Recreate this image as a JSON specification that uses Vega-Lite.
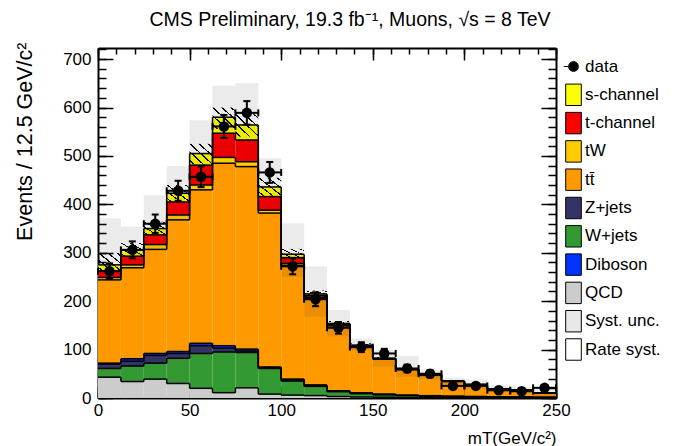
{
  "$schema": "https://vega.github.io/schema/vega-lite/v6.json",
  "width": 458,
  "height": 350,
  "autosize": {"type": "none"},
  "padding": {"left": 98, "top": 48, "right": 124, "bottom": 48},
  "background": "white",
  "config": {
    "view": {"stroke": null},
    "font": "Liberation Sans",
    "axis": {
      "zindex": 1, "grid": false, "domain": false, "domainColor": "black", "domainWidth": 2,
      "tickColor": "black", "tickWidth": 1.5, "labelFont": "Liberation Sans", "labelFontSize": 17,
      "labelColor": "black", "titleFont": "Liberation Sans", "titleFontSize": 17, "titleFontWeight": "normal",
      "titleColor": "black", "labelFlush": false, "labelOverlap": false
    }
  },
  "title": {
    "text": "CMS Preliminary, 19.3 fb⁻¹, Muons, √s = 8 TeV",
    "font": "Liberation Sans", "fontSize": 19.5, "fontWeight": "normal", "color": "black",
    "anchor": "middle", "frame": "group", "dx": 23, "offset": 12
  },
  "resolve": {"axis": {"x": "independent", "y": "independent"}},
  "datasets": {
    "mc": [
      {"lo":0,"hi":12.5,"p":"QCD","v":43},{"lo":0,"hi":12.5,"p":"W+jets","v":18},{"lo":0,"hi":12.5,"p":"Z+jets","v":9},{"lo":0,"hi":12.5,"p":"Diboson","v":2},{"lo":0,"hi":12.5,"p":"tt̄","v":172},{"lo":0,"hi":12.5,"p":"tW","v":5},{"lo":0,"hi":12.5,"p":"t-channel","v":13},{"lo":0,"hi":12.5,"p":"s-channel","v":13},
      {"lo":12.5,"hi":25,"p":"QCD","v":34},{"lo":12.5,"hi":25,"p":"W+jets","v":32},{"lo":12.5,"hi":25,"p":"Z+jets","v":10},{"lo":12.5,"hi":25,"p":"Diboson","v":5},{"lo":12.5,"hi":25,"p":"tt̄","v":188},{"lo":12.5,"hi":25,"p":"tW","v":6},{"lo":12.5,"hi":25,"p":"t-channel","v":18},{"lo":12.5,"hi":25,"p":"s-channel","v":13},
      {"lo":25,"hi":37.5,"p":"QCD","v":39},{"lo":25,"hi":37.5,"p":"W+jets","v":33},{"lo":25,"hi":37.5,"p":"Z+jets","v":16},{"lo":25,"hi":37.5,"p":"Diboson","v":4},{"lo":25,"hi":37.5,"p":"tt̄","v":215},{"lo":25,"hi":37.5,"p":"tW","v":10},{"lo":25,"hi":37.5,"p":"t-channel","v":20},{"lo":25,"hi":37.5,"p":"s-channel","v":13},
      {"lo":37.5,"hi":50,"p":"QCD","v":30},{"lo":37.5,"hi":50,"p":"W+jets","v":52},{"lo":37.5,"hi":50,"p":"Z+jets","v":10},{"lo":37.5,"hi":50,"p":"Diboson","v":4},{"lo":37.5,"hi":50,"p":"tt̄","v":272},{"lo":37.5,"hi":50,"p":"tW","v":10},{"lo":37.5,"hi":50,"p":"t-channel","v":27},{"lo":37.5,"hi":50,"p":"s-channel","v":18},
      {"lo":50,"hi":62.5,"p":"QCD","v":20},{"lo":50,"hi":62.5,"p":"W+jets","v":72},{"lo":50,"hi":62.5,"p":"Z+jets","v":16},{"lo":50,"hi":62.5,"p":"Diboson","v":5},{"lo":50,"hi":62.5,"p":"tt̄","v":317},{"lo":50,"hi":62.5,"p":"tW","v":10},{"lo":50,"hi":62.5,"p":"t-channel","v":41},{"lo":50,"hi":62.5,"p":"s-channel","v":24},
      {"lo":62.5,"hi":75,"p":"QCD","v":11},{"lo":62.5,"hi":75,"p":"W+jets","v":84},{"lo":62.5,"hi":75,"p":"Z+jets","v":8},{"lo":62.5,"hi":75,"p":"Diboson","v":5},{"lo":62.5,"hi":75,"p":"tt̄","v":377},{"lo":62.5,"hi":75,"p":"tW","v":12},{"lo":62.5,"hi":75,"p":"t-channel","v":50},{"lo":62.5,"hi":75,"p":"s-channel","v":33},
      {"lo":75,"hi":87.5,"p":"QCD","v":21},{"lo":75,"hi":87.5,"p":"W+jets","v":73},{"lo":75,"hi":87.5,"p":"Z+jets","v":3},{"lo":75,"hi":87.5,"p":"Diboson","v":4},{"lo":75,"hi":87.5,"p":"tt̄","v":377},{"lo":75,"hi":87.5,"p":"tW","v":10},{"lo":75,"hi":87.5,"p":"t-channel","v":45},{"lo":75,"hi":87.5,"p":"s-channel","v":31},
      {"lo":87.5,"hi":100,"p":"QCD","v":8},{"lo":87.5,"hi":100,"p":"W+jets","v":53},{"lo":87.5,"hi":100,"p":"Z+jets","v":2},{"lo":87.5,"hi":100,"p":"Diboson","v":1},{"lo":87.5,"hi":100,"p":"tt̄","v":318},{"lo":87.5,"hi":100,"p":"tW","v":6},{"lo":87.5,"hi":100,"p":"t-channel","v":28},{"lo":87.5,"hi":100,"p":"s-channel","v":20},
      {"lo":100,"hi":112.5,"p":"QCD","v":6},{"lo":100,"hi":112.5,"p":"W+jets","v":29},{"lo":100,"hi":112.5,"p":"Z+jets","v":3},{"lo":100,"hi":112.5,"p":"Diboson","v":1},{"lo":100,"hi":112.5,"p":"tt̄","v":235},{"lo":100,"hi":112.5,"p":"tW","v":4},{"lo":100,"hi":112.5,"p":"t-channel","v":12},{"lo":100,"hi":112.5,"p":"s-channel","v":7},
      {"lo":112.5,"hi":125,"p":"QCD","v":5},{"lo":112.5,"hi":125,"p":"W+jets","v":19},{"lo":112.5,"hi":125,"p":"Z+jets","v":2},{"lo":112.5,"hi":125,"p":"Diboson","v":1},{"lo":112.5,"hi":125,"p":"tt̄","v":178},{"lo":112.5,"hi":125,"p":"tW","v":3},{"lo":112.5,"hi":125,"p":"t-channel","v":4},{"lo":112.5,"hi":125,"p":"s-channel","v":3},
      {"lo":125,"hi":137.5,"p":"QCD","v":3},{"lo":125,"hi":137.5,"p":"W+jets","v":10},{"lo":125,"hi":137.5,"p":"Z+jets","v":1},{"lo":125,"hi":137.5,"p":"Diboson","v":1},{"lo":125,"hi":137.5,"p":"tt̄","v":134},{"lo":125,"hi":137.5,"p":"tW","v":2},{"lo":125,"hi":137.5,"p":"t-channel","v":2},{"lo":125,"hi":137.5,"p":"s-channel","v":1},
      {"lo":137.5,"hi":150,"p":"QCD","v":2},{"lo":137.5,"hi":150,"p":"W+jets","v":7},{"lo":137.5,"hi":150,"p":"Z+jets","v":1},{"lo":137.5,"hi":150,"p":"Diboson","v":0.5},{"lo":137.5,"hi":150,"p":"tt̄","v":95.5},{"lo":137.5,"hi":150,"p":"tW","v":1.5},{"lo":137.5,"hi":150,"p":"t-channel","v":1},{"lo":137.5,"hi":150,"p":"s-channel","v":0.5},
      {"lo":150,"hi":162.5,"p":"QCD","v":1.5},{"lo":150,"hi":162.5,"p":"W+jets","v":5},{"lo":150,"hi":162.5,"p":"Z+jets","v":1},{"lo":150,"hi":162.5,"p":"Diboson","v":0.5},{"lo":150,"hi":162.5,"p":"tt̄","v":72},{"lo":150,"hi":162.5,"p":"tW","v":1},{"lo":150,"hi":162.5,"p":"t-channel","v":1},{"lo":150,"hi":162.5,"p":"s-channel","v":0},
      {"lo":162.5,"hi":175,"p":"QCD","v":1},{"lo":162.5,"hi":175,"p":"W+jets","v":4},{"lo":162.5,"hi":175,"p":"Z+jets","v":0.5},{"lo":162.5,"hi":175,"p":"Diboson","v":0.3},{"lo":162.5,"hi":175,"p":"tt̄","v":52.5},{"lo":162.5,"hi":175,"p":"tW","v":1},{"lo":162.5,"hi":175,"p":"t-channel","v":0.5},{"lo":162.5,"hi":175,"p":"s-channel","v":0.2},
      {"lo":175,"hi":187.5,"p":"QCD","v":1},{"lo":175,"hi":187.5,"p":"W+jets","v":3},{"lo":175,"hi":187.5,"p":"Z+jets","v":0.5},{"lo":175,"hi":187.5,"p":"Diboson","v":0.3},{"lo":175,"hi":187.5,"p":"tt̄","v":42},{"lo":175,"hi":187.5,"p":"tW","v":0.8},{"lo":175,"hi":187.5,"p":"t-channel","v":0.4},{"lo":175,"hi":187.5,"p":"s-channel","v":0},
      {"lo":187.5,"hi":200,"p":"QCD","v":0.5},{"lo":187.5,"hi":200,"p":"W+jets","v":2.5},{"lo":187.5,"hi":200,"p":"Z+jets","v":0.3},{"lo":187.5,"hi":200,"p":"Diboson","v":0.2},{"lo":187.5,"hi":200,"p":"tt̄","v":30.5},{"lo":187.5,"hi":200,"p":"tW","v":0.6},{"lo":187.5,"hi":200,"p":"t-channel","v":0.4},{"lo":187.5,"hi":200,"p":"s-channel","v":0},
      {"lo":200,"hi":212.5,"p":"QCD","v":0.5},{"lo":200,"hi":212.5,"p":"W+jets","v":2},{"lo":200,"hi":212.5,"p":"Z+jets","v":0.3},{"lo":200,"hi":212.5,"p":"Diboson","v":0.2},{"lo":200,"hi":212.5,"p":"tt̄","v":24.2},{"lo":200,"hi":212.5,"p":"tW","v":0.5},{"lo":200,"hi":212.5,"p":"t-channel","v":0.3},{"lo":200,"hi":212.5,"p":"s-channel","v":0},
      {"lo":212.5,"hi":225,"p":"QCD","v":0.3},{"lo":212.5,"hi":225,"p":"W+jets","v":1.5},{"lo":212.5,"hi":225,"p":"Z+jets","v":0.2},{"lo":212.5,"hi":225,"p":"Diboson","v":0.1},{"lo":212.5,"hi":225,"p":"tt̄","v":16.5},{"lo":212.5,"hi":225,"p":"tW","v":0.3},{"lo":212.5,"hi":225,"p":"t-channel","v":0.1},{"lo":212.5,"hi":225,"p":"s-channel","v":0},
      {"lo":225,"hi":237.5,"p":"QCD","v":0.3},{"lo":225,"hi":237.5,"p":"W+jets","v":1.3},{"lo":225,"hi":237.5,"p":"Z+jets","v":0.2},{"lo":225,"hi":237.5,"p":"Diboson","v":0.1},{"lo":225,"hi":237.5,"p":"tt̄","v":14.8},{"lo":225,"hi":237.5,"p":"tW","v":0.2},{"lo":225,"hi":237.5,"p":"t-channel","v":0.1},{"lo":225,"hi":237.5,"p":"s-channel","v":0},
      {"lo":237.5,"hi":250,"p":"QCD","v":0.2},{"lo":237.5,"hi":250,"p":"W+jets","v":1},{"lo":237.5,"hi":250,"p":"Z+jets","v":0.1},{"lo":237.5,"hi":250,"p":"Diboson","v":0.1},{"lo":237.5,"hi":250,"p":"tt̄","v":8.8},{"lo":237.5,"hi":250,"p":"tW","v":0.2},{"lo":237.5,"hi":250,"p":"t-channel","v":0.1},{"lo":237.5,"hi":250,"p":"s-channel","v":0}
    ],
    "bins": [
      {"lo":0,"hi":12.5,"n":262,"e":16.2,"su":371,"sd":246,"rl":262,"rh":300},
      {"lo":12.5,"hi":25,"n":306,"e":17.5,"su":354,"sd":271,"rl":292,"rh":320},
      {"lo":25,"hi":37.5,"n":360,"e":19.0,"su":419,"sd":309,"rl":336,"rh":364},
      {"lo":37.5,"hi":50,"n":428,"e":20.7,"su":479,"sd":370,"rl":405,"rh":440},
      {"lo":50,"hi":62.5,"n":457,"e":21.4,"su":574,"sd":437,"rl":482,"rh":525},
      {"lo":62.5,"hi":75,"n":561,"e":23.7,"su":645,"sd":497,"rl":556,"rh":600},
      {"lo":75,"hi":87.5,"n":589,"e":24.3,"su":650,"sd":488,"rl":540,"rh":586},
      {"lo":87.5,"hi":100,"n":466,"e":21.6,"su":495,"sd":388,"rl":418,"rh":455},
      {"lo":100,"hi":112.5,"n":272,"e":16.5,"su":361,"sd":250,"rl":286,"rh":308},
      {"lo":112.5,"hi":125,"n":204,"e":14.3,"su":272,"sd":168,"rl":208,"rh":222},
      {"lo":125,"hi":137.5,"n":145,"e":12.0,"su":182,"sd":127,"rl":149,"rh":159},
      {"lo":137.5,"hi":150,"n":105,"e":10.2,"su":123,"sd":99,"rl":105,"rh":113},
      {"lo":150,"hi":162.5,"n":92,"e":9.6,"su":99,"sd":65,"rl":79,"rh":85},
      {"lo":162.5,"hi":175,"n":61,"e":7.8,"su":87,"sd":44,"rl":58,"rh":62},
      {"lo":175,"hi":187.5,"n":50,"e":7.1,"su":58,"sd":38,"rl":46,"rh":50},
      {"lo":187.5,"hi":200,"n":25,"e":5.0,"su":42,"sd":28,"rl":33.5,"rh":36.5},
      {"lo":200,"hi":212.5,"n":25,"e":5.0,"su":38,"sd":19,"rl":27,"rh":29},
      {"lo":212.5,"hi":225,"n":16,"e":4.0,"su":26,"sd":12,"rl":18,"rh":20},
      {"lo":225,"hi":237.5,"n":14,"e":3.7,"su":23,"sd":11,"rl":16.3,"rh":17.7},
      {"lo":237.5,"hi":250,"n":21,"e":4.6,"su":21,"sd":3,"rl":10,"rh":11}
    ]
  },
  "layer": [
    {
      "data": {"name": "mc"},
      "transform": [
        {"calculate": "indexof(['QCD','W+jets','Z+jets','Diboson','tt̄','tW','t-channel','s-channel'], datum.p)", "as": "o"},
        {"stack": "v", "groupby": ["lo"], "sort": [{"field": "o", "order": "ascending"}], "as": ["y0", "y1"]}
      ],
      "mark": {"type": "rect", "strokeWidth": 0},
      "encoding": {
        "x": {"field": "lo", "type": "quantitative", "scale": {"domain": [0, 250], "nice": false, "zero": false},
              "axis": {"orient": "bottom", "values": [0, 50, 100, 150, 200, 250], "ticks": false, "domain": true, "labelPadding": 4,
                       "title": "mT(GeV/c²)", "titleAnchor": "end", "titleAlign": "right", "titleBaseline": "middle", "titleX": 458, "titleY": 40}},
        "x2": {"field": "hi"},
        "y": {"field": "y0", "type": "quantitative", "scale": {"domain": [0, 723], "nice": false, "zero": true},
              "axis": {"orient": "left", "values": [0, 100, 200, 300, 400, 500, 600, 700], "ticks": false, "domain": true, "labelPadding": 7,
                       "title": "Events / 12.5 GeV/c²", "titleFontSize": 21.5, "titleAngle": -90, "titleAnchor": "end", "titleAlign": "right", "titleBaseline": "middle", "titleX": -73, "titleY": -6}},
        "y2": {"field": "y1"},
        "color": {
          "field": "p", "type": "nominal",
          "scale": {"domain": ["data", "s-channel", "t-channel", "tW", "tt̄", "Z+jets", "W+jets", "Diboson", "QCD", "Syst. unc.", "Rate syst."],
                    "range": ["#000000", "#ffff00", "#ff0000", "#ffcc00", "#ff9900", "#333366", "#339933", "#0033ff", "#cccccc", "#e8e8e8", "#ffffff"]},
          "legend": {
            "orient": "none", "legendX": 465, "legendY": 8, "title": null,
            "symbolType": "M-0.8,-1.1H0.8V1.1H-0.8Z", "symbolSize": 380, "symbolStrokeColor": "black", "symbolStrokeWidth": 1,
            "labelFont": "Liberation Sans", "labelFontSize": 17, "labelColor": "black", "labelOffset": 1, "rowPadding": 1.3, "labelLimit": 200,
            "encode": {"symbols": {"update": {
              "shape": [{"test": "datum.value === 'data'", "value": "M0,-1.1M0,1.1M-1,0H-0.5M0.5,0A0.5,0.5 0 1 1 -0.5,0A0.5,0.5 0 1 1 0.5,0Z"}, {"value": "M-0.8,-1.1H0.8V1.1H-0.8Z"}],
              "stroke": {"value": "black"}, "strokeWidth": {"value": 1}, "opacity": {"value": 1}, "fillOpacity": {"value": 1}
            }}}
          }
        }
      }
    },
    {
      "data": {"name": "mc"},
      "transform": [
        {"calculate": "indexof(['QCD','W+jets','Z+jets','Diboson','tt̄','tW','t-channel','s-channel'], datum.p)", "as": "o"},
        {"stack": "v", "groupby": ["lo"], "sort": [{"field": "o", "order": "ascending"}], "as": ["y0", "y1"]}
      ],
      "mark": {"type": "rule", "color": "black", "strokeWidth": 1.5},
      "encoding": {
        "x": {"field": "lo", "type": "quantitative", "scale": {"domain": [0, 250], "nice": false, "zero": false},
              "axis": {"orient": "bottom", "values": [0, 50, 100, 150, 200, 250], "labels": false, "tickSize": -12, "title": null}},
        "x2": {"field": "hi"},
        "y": {"field": "y1", "type": "quantitative", "scale": {"domain": [0, 723], "nice": false, "zero": true},
              "axis": {"orient": "left", "values": [0, 100, 200, 300, 400, 500, 600, 700], "labels": false, "tickSize": -15, "title": null}}
      }
    },
    {
      "data": {"name": "mc"},
      "transform": [
        {"calculate": "indexof(['QCD','W+jets','Z+jets','Diboson','tt̄','tW','t-channel','s-channel'], datum.p)", "as": "o"},
        {"stack": "v", "groupby": ["lo"], "sort": [{"field": "o", "order": "ascending"}], "as": ["y0", "y1"]},
        {"window": [{"op": "lead", "field": "y1", "as": "ny"}], "groupby": ["p"], "sort": [{"field": "lo", "order": "ascending"}]},
        {"filter": "datum.ny != null"}
      ],
      "mark": {"type": "rule", "color": "black", "strokeWidth": 1.5},
      "encoding": {
        "x": {"field": "hi", "type": "quantitative", "scale": {"domain": [0, 250], "nice": false, "zero": false},
              "axis": {"orient": "bottom", "values": [0,10,20,30,40,50,60,70,80,90,100,110,120,130,140,150,160,170,180,190,200,210,220,230,240,250], "labels": false, "tickSize": -6, "title": null}},
        "y": {"field": "y1", "type": "quantitative", "scale": {"domain": [0, 723], "nice": false, "zero": true},
              "axis": {"orient": "left", "values": [0,20,40,60,80,100,120,140,160,180,200,220,240,260,280,300,320,340,360,380,400,420,440,460,480,500,520,540,560,580,600,620,640,660,680,700,720], "labels": false, "tickSize": -8, "title": null}},
        "y2": {"field": "ny"}
      }
    },
    {
      "data": {"name": "bins"},
      "mark": {"type": "rect", "fill": {"gradient": "linear", "x1": 0, "y1": 1, "x2": 1, "y2": 0, "stops": [
                  {"offset": 0, "color": "rgba(0,0,0,0)"}, {"offset": 0.09, "color": "rgba(0,0,0,0)"}, {"offset": 0.09, "color": "#000"}, {"offset": 0.13, "color": "#000"}, {"offset": 0.13, "color": "rgba(0,0,0,0)"},
                  {"offset": 0.29, "color": "rgba(0,0,0,0)"}, {"offset": 0.29, "color": "#000"}, {"offset": 0.33, "color": "#000"}, {"offset": 0.33, "color": "rgba(0,0,0,0)"},
                  {"offset": 0.49, "color": "rgba(0,0,0,0)"}, {"offset": 0.49, "color": "#000"}, {"offset": 0.53, "color": "#000"}, {"offset": 0.53, "color": "rgba(0,0,0,0)"},
                  {"offset": 0.69, "color": "rgba(0,0,0,0)"}, {"offset": 0.69, "color": "#000"}, {"offset": 0.73, "color": "#000"}, {"offset": 0.73, "color": "rgba(0,0,0,0)"},
                  {"offset": 0.89, "color": "rgba(0,0,0,0)"}, {"offset": 0.89, "color": "#000"}, {"offset": 0.93, "color": "#000"}, {"offset": 0.93, "color": "rgba(0,0,0,0)"},
                  {"offset": 1, "color": "rgba(0,0,0,0)"}]}, "strokeWidth": 0},
      "encoding": {
        "x": {"field": "lo", "type": "quantitative", "scale": {"domain": [0, 250], "nice": false, "zero": false},
              "axis": {"orient": "top", "values": [0, 50, 100, 150, 200, 250], "labels": false, "domain": true, "tickSize": -12, "title": null}},
        "x2": {"field": "hi"},
        "y": {"field": "rl", "type": "quantitative", "scale": {"domain": [0, 723], "nice": false, "zero": true},
              "axis": {"orient": "right", "values": [0, 100, 200, 300, 400, 500, 600, 700], "labels": false, "domain": true, "tickSize": -15, "title": null}},
        "y2": {"field": "rh"}
      }
    },
    {
      "data": {"name": "bins"},
      "mark": {"type": "rect", "color": "black", "opacity": 0.08, "strokeWidth": 0},
      "encoding": {
        "x": {"field": "lo", "type": "quantitative", "scale": {"domain": [0, 250], "nice": false, "zero": false},
              "axis": {"orient": "top", "values": [0,10,20,30,40,50,60,70,80,90,100,110,120,130,140,150,160,170,180,190,200,210,220,230,240,250], "labels": false, "tickSize": -6, "title": null}},
        "x2": {"field": "hi"},
        "y": {"field": "sd", "type": "quantitative", "scale": {"domain": [0, 723], "nice": false, "zero": true},
              "axis": {"orient": "right", "values": [0,20,40,60,80,100,120,140,160,180,200,220,240,260,280,300,320,340,360,380,400,420,440,460,480,500,520,540,560,580,600,620,640,660,680,700,720], "labels": false, "tickSize": -8, "title": null}},
        "y2": {"field": "su"}
      }
    },
    {
      "data": {"name": "bins"},
      "mark": {"type": "rule", "color": "black", "strokeWidth": 2},
      "encoding": {
        "x": {"field": "lo", "type": "quantitative", "scale": {"domain": [0, 250], "nice": false, "zero": false}, "axis": null},
        "x2": {"field": "hi"},
        "y": {"field": "n", "type": "quantitative", "scale": {"domain": [0, 723], "nice": false, "zero": true}, "axis": null}
      }
    },
    {
      "data": {"name": "bins"},
      "transform": [
        {"calculate": "(datum.lo + datum.hi) / 2", "as": "c"},
        {"calculate": "datum.n - datum.e", "as": "nlo"},
        {"calculate": "datum.n + datum.e", "as": "nhi"}
      ],
      "mark": {"type": "rule", "color": "black", "strokeWidth": 2},
      "encoding": {
        "x": {"field": "c", "type": "quantitative", "scale": {"domain": [0, 250], "nice": false, "zero": false}, "axis": null},
        "y": {"field": "nlo", "type": "quantitative", "scale": {"domain": [0, 723], "nice": false, "zero": true}, "axis": null},
        "y2": {"field": "nhi"}
      }
    },
    {
      "data": {"name": "bins"},
      "transform": [
        {"calculate": "(datum.lo + datum.hi) / 2", "as": "c"},
        {"calculate": "datum.n - datum.e", "as": "nlo"},
        {"calculate": "datum.n + datum.e", "as": "nhi"},
        {"fold": ["nlo", "nhi"], "as": ["k", "yy"]}
      ],
      "mark": {"type": "tick", "orient": "horizontal", "color": "black", "size": 7, "thickness": 2, "opacity": 1},
      "encoding": {
        "x": {"field": "c", "type": "quantitative", "scale": {"domain": [0, 250], "nice": false, "zero": false}, "axis": null},
        "y": {"field": "yy", "type": "quantitative", "scale": {"domain": [0, 723], "nice": false, "zero": true}, "axis": null}
      }
    },
    {
      "data": {"name": "bins"},
      "transform": [
        {"fold": ["lo", "hi"], "as": ["k", "xx"]}
      ],
      "mark": {"type": "tick", "orient": "vertical", "color": "black", "size": 7, "thickness": 2, "opacity": 1},
      "encoding": {
        "x": {"field": "xx", "type": "quantitative", "scale": {"domain": [0, 250], "nice": false, "zero": false}, "axis": null},
        "y": {"field": "n", "type": "quantitative", "scale": {"domain": [0, 723], "nice": false, "zero": true}, "axis": null}
      }
    },
    {
      "data": {"name": "bins"},
      "transform": [
        {"calculate": "(datum.lo + datum.hi) / 2", "as": "c"}
      ],
      "mark": {"type": "point", "shape": "circle", "filled": true, "color": "black", "size": 110, "opacity": 1},
      "encoding": {
        "x": {"field": "c", "type": "quantitative", "scale": {"domain": [0, 250], "nice": false, "zero": false}, "axis": null},
        "y": {"field": "n", "type": "quantitative", "scale": {"domain": [0, 723], "nice": false, "zero": true}, "axis": null}
      }
    }
  ]
}
